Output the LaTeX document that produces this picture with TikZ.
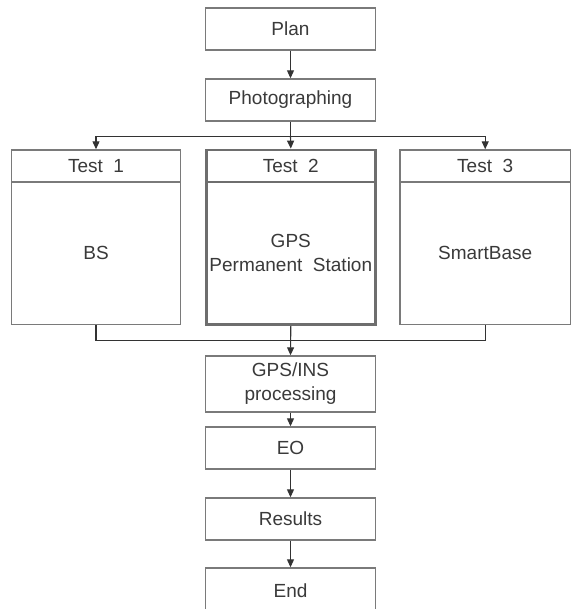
\documentclass[tikz,border=0pt]{standalone}
\usepackage{fontspec}
\setmainfont{Liberation Sans}
\usetikzlibrary{arrows.meta}
\definecolor{boxgray}{HTML}{7A7A7A}
\definecolor{txt}{HTML}{3A3A3A}
\definecolor{lnc}{HTML}{333333}
\begin{document}
\begin{tikzpicture}[x=1pt,y=-1pt,
  box/.style={draw=boxgray, line width=1.4pt, fill=white, minimum width=170pt, inner sep=0pt, align=center, font=\fontsize{19}{24}\selectfont, text=txt},
  thickbox/.style={box, line width=2.8pt, draw=boxgray!90!black},
  conn/.style={draw=lnc, line width=1.1pt},
  arr/.style={conn, -{Triangle[length=8pt,width=7pt]}}]
\useasboundingbox (0,0) rectangle (576,609);
\clip (0,0) rectangle (576,609);
% main column
\node[box, minimum height=42pt] (plan) at (290.5,29) {Plan};
\node[box, minimum height=42pt] (photo) at (290.5,100) {Photographing};
% tests
\node[box, minimum width=168.6pt, minimum height=32pt] (t1h) at (96,166) {Test~~1};
\node[box, minimum width=168.6pt, minimum height=142.5pt] (t1b) at (96,253.25) {BS};
\node[thickbox, minimum width=168.6pt, minimum height=32pt] (t2h) at (290.8,166) {Test~~2};
\node[thickbox, minimum width=168.6pt, minimum height=142.5pt] (t2b) at (290.8,253.25) {GPS\\Permanent~~Station};
\node[box, minimum width=170.3pt, minimum height=32pt] (t3h) at (485.2,166) {Test~~3};
\node[box, minimum width=170.3pt, minimum height=142.5pt] (t3b) at (485.2,253.25) {SmartBase};
% lower column
\node[box, minimum height=56pt] (gps) at (290.5,384) {GPS/INS\\processing};
\node[box, minimum height=42pt] (eo) at (290.5,448) {EO};
\node[box, minimum height=42pt] (res) at (290.5,519) {Results};
\node[box, minimum height=46pt] (end) at (290.5,591) {End};
% connectors
\coordinate (br) at (290.5,136.7);
\coordinate (jn) at (290.5,340.7);
\draw[arr] (plan.south) -- (photo.north);
\draw[conn] (photo.south) -- (br);
\draw[arr] (br) -| (t1h.north);
\draw[arr] (br) -| (t3h.north);
\draw[arr] (br) -- (t2h.north);
\draw[conn] (t1b.south) |- (jn);
\draw[conn] (t3b.south) |- (jn);
\draw[arr] (t2b.south) -- (gps.north);
\draw[arr] (gps.south) -- (eo.north);
\draw[arr] (eo.south) -- (res.north);
\draw[arr] (res.south) -- (end.north);
\end{tikzpicture}
\end{document}
